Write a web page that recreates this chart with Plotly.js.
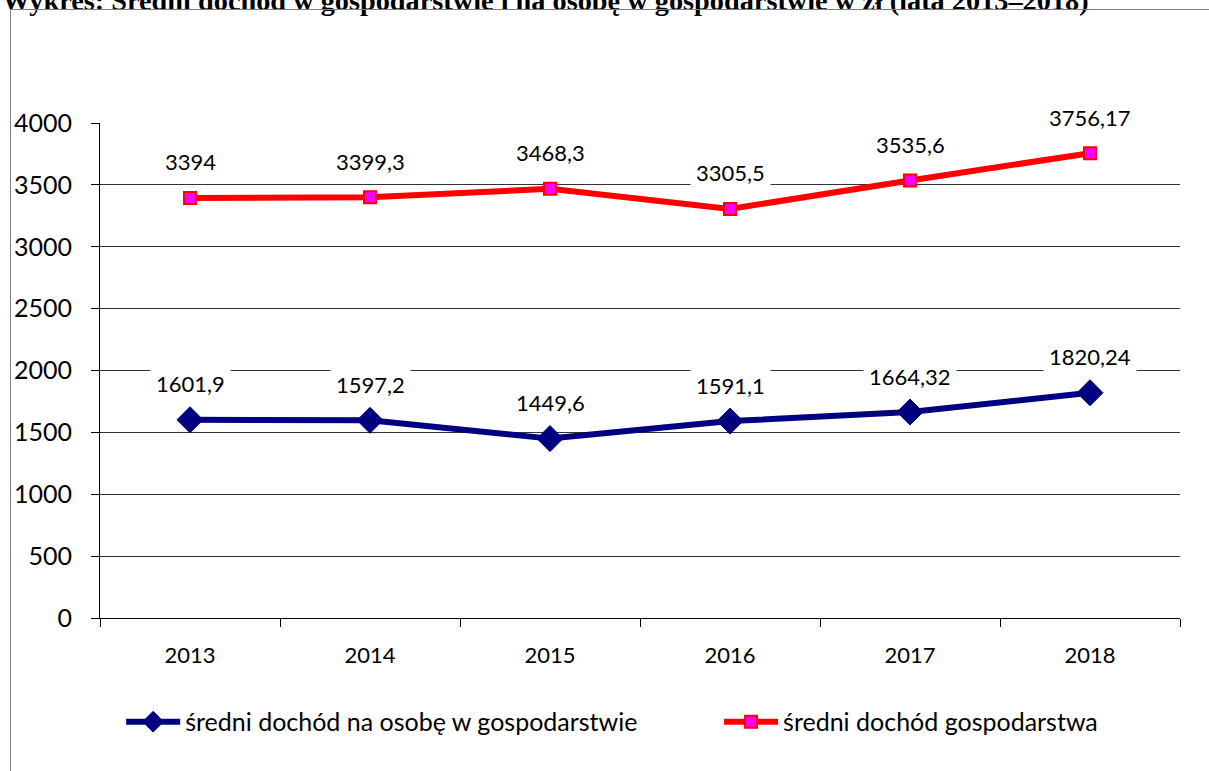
<!DOCTYPE html>
<html>
<head>
<meta charset="utf-8">
<script src="https://cdn.plot.ly/plotly-3.0.1.min.js"></script>
<style>
html,body{margin:0;padding:0;background:#fff;overflow:hidden;}
#chart{width:1209px;height:771px;position:relative;}
#frame{position:absolute;left:10px;top:9px;width:1220px;height:800px;border:1px solid #7f7f7f;pointer-events:none;}
</style>
</head>
<body>
<div id="chart"></div>
<div id="frame"></div>
<script>
const years = [2013, 2014, 2015, 2016, 2017, 2018];
const perPerson = [1601.9, 1597.2, 1449.6, 1591.1, 1664.32, 1820.24];
const household = [3394, 3399.3, 3468.3, 3305.5, 3535.6, 3756.17];
const seriesNames = ['średni dochód na osobę w gospodarstwie', 'średni dochód gospodarstwa'];
const yTicks = [0, 500, 1000, 1500, 2000, 2500, 3000, 3500, 4000];
const titleText = 'Wykres: Średni dochód w gospodarstwie i na osobę w gospodarstwie w zł (lata 2013–2018)';

const fmt = v => String(v).replace('.', ',');
const FONT = 'Lato, "Open Sans", sans-serif';
const first = years[0], last = years[years.length - 1];
const boundaries = years.map(y => y - 0.5).concat([last + 0.5]);

const traces = [
  {x: years, y: perPerson, name: seriesNames[0], type: 'scatter', mode: 'lines+markers', legend: 'legend',
   line: {color: '#000080', width: 6},
   marker: {symbol: 'diamond', size: 20, color: '#000080', line: {color: '#000080', width: 1}}},
  {x: years, y: household, name: seriesNames[1], type: 'scatter', mode: 'lines+markers', legend: 'legend2',
   line: {color: '#ff0000', width: 6},
   marker: {symbol: 'square', size: 12, color: '#ff00ff', line: {color: '#ff0000', width: 2}}}
];

const annotations = [];
[perPerson, household].forEach(arr => {
  arr.forEach((v, i) => {
    annotations.push({x: years[i], y: v, xref: 'x', yref: 'y', text: fmt(v), showarrow: false,
      yshift: 36, bgcolor: '#ffffff', borderpad: 5, font: {family: FONT, size: 22, color: '#000'}});
  });
});
annotations.push({xref: 'paper', yref: 'paper', x: -0.0926, y: 1.212, xanchor: 'left', yanchor: 'bottom',
  text: '<b>' + titleText + '</b>', showarrow: false,
  font: {family: '"Liberation Serif", "Times New Roman", serif', size: 28.3, color: '#000'}});

const legendBase = {orientation: 'h', y: -0.21, xanchor: 'left', yanchor: 'middle',
  font: {family: FONT, size: 25, color: '#000'}, itemwidth: 54, bgcolor: 'rgba(0,0,0,0)'};

const layout = {
  width: 1209, height: 771,
  margin: {l: 100, r: 29, t: 123, b: 153},
  paper_bgcolor: '#fff', plot_bgcolor: '#fff',
  showlegend: true,
  legend: Object.assign({}, legendBase, {x: 0.0196}),
  legend2: Object.assign({}, legendBase, {x: 0.5732}),
  xaxis: {type: 'linear', range: [first - 0.5, last + 0.5], tickmode: 'array', tickvals: years,
    ticktext: years.map(String), ticks: 'outside', ticklen: 18, tickcolor: 'rgba(0,0,0,0)',
    minor: {tickmode: 'array', tickvals: boundaries, ticks: 'outside', ticklen: 8, tickcolor: '#000', showgrid: false},
    showline: true, linecolor: '#000', linewidth: 1, showgrid: false, zeroline: false,
    tickfont: {family: FONT, size: 22, color: '#000'}, fixedrange: true},
  yaxis: {range: [0, 4000], tickmode: 'array', tickvals: yTicks, ticks: 'outside', ticklen: 8, tickcolor: '#000',
    showline: true, linecolor: '#000', linewidth: 1, showgrid: true, gridcolor: '#333', gridwidth: 1,
    zeroline: false, tickfont: {family: FONT, size: 25, color: '#000'}, ticklabelstandoff: 14, fixedrange: true},
  annotations: annotations
};

Plotly.newPlot('chart', traces, layout, {displayModeBar: false, staticPlot: true});
</script>
</body>
</html>
